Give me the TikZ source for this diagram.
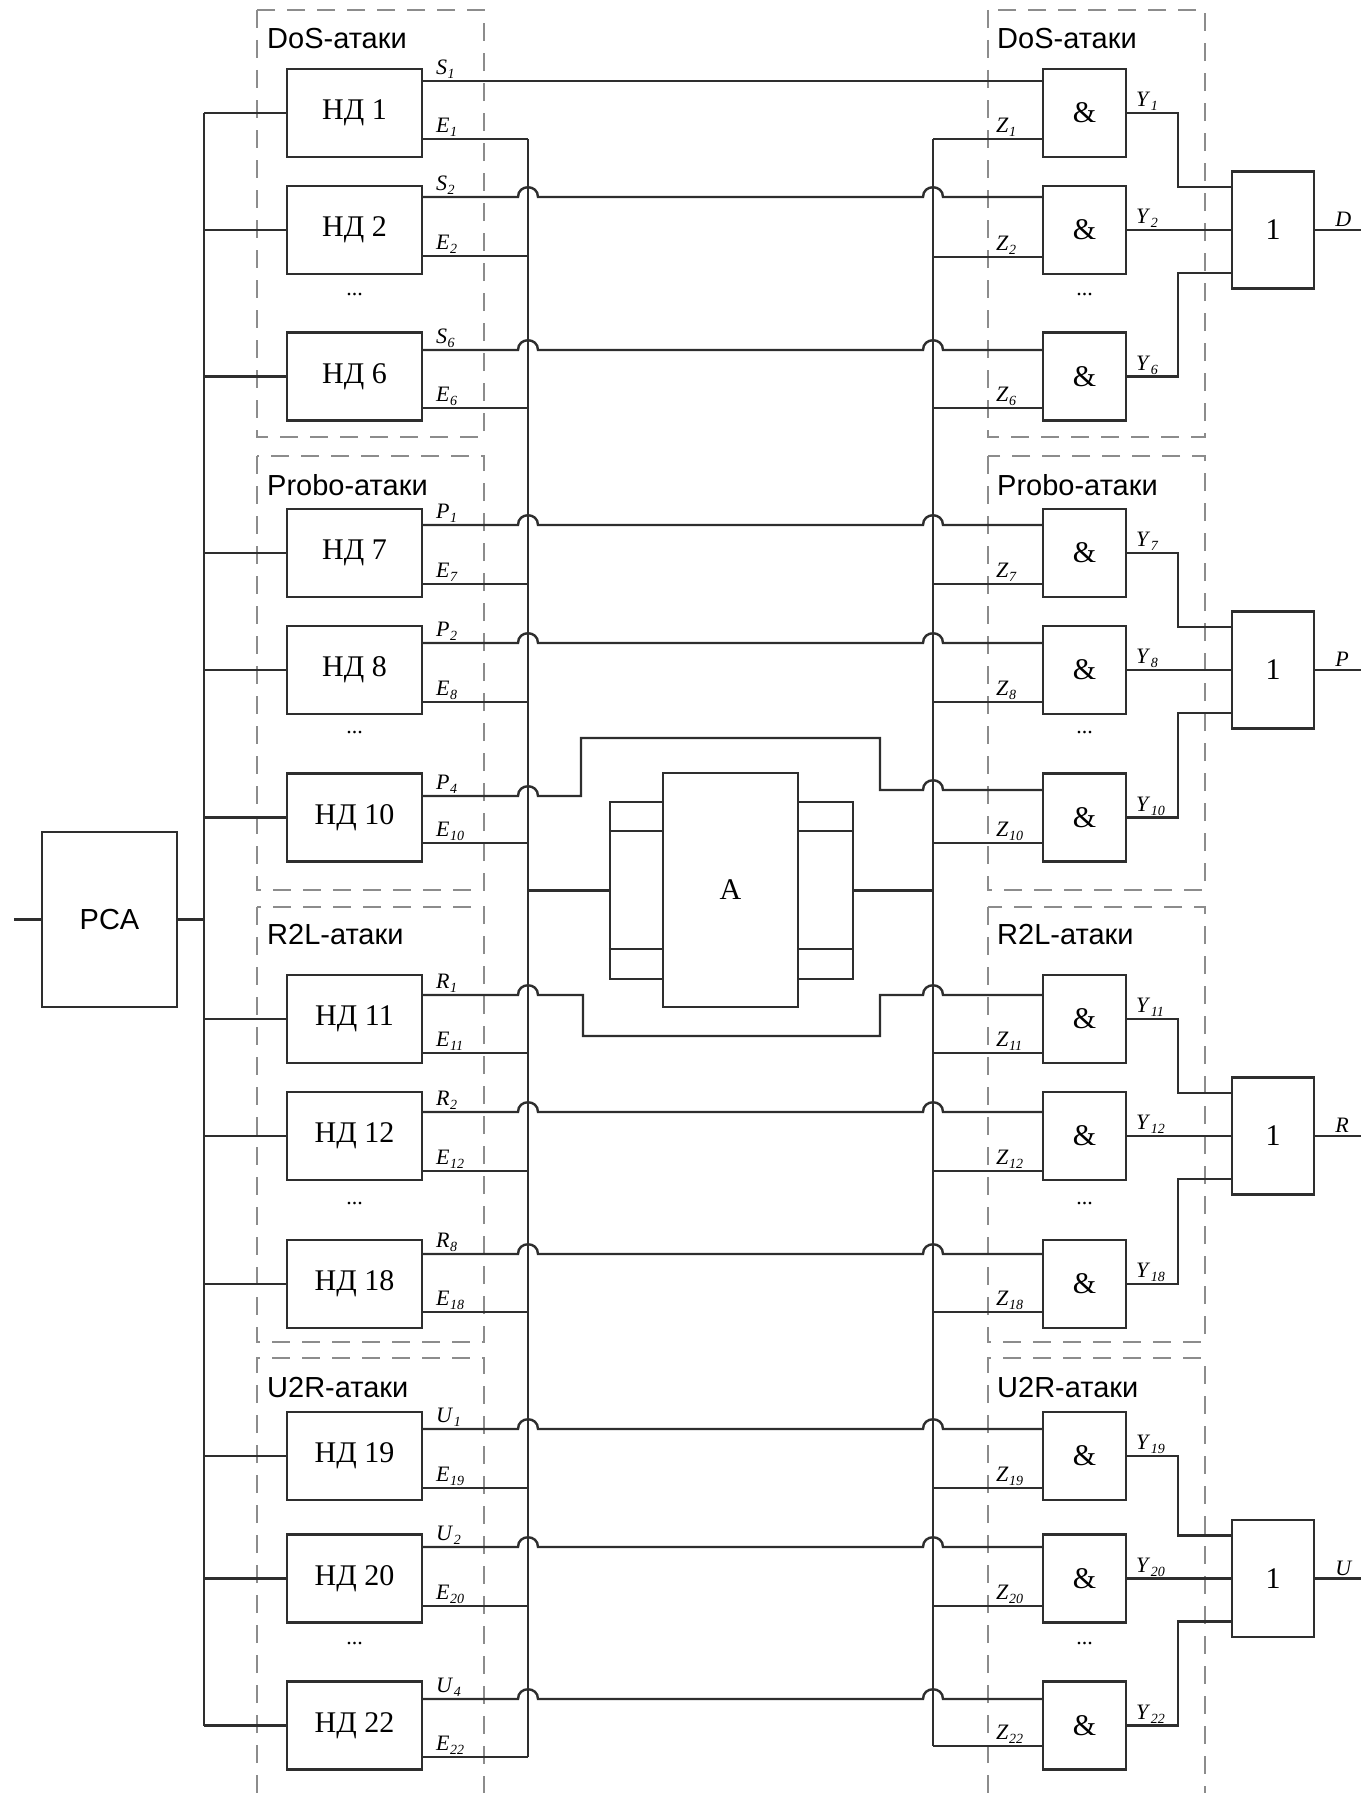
\documentclass[tikz,border=0pt]{standalone}
\usepackage{fontspec}
\setmainfont{Liberation Serif}
\setsansfont{Liberation Sans}
\usetikzlibrary{calc}
\newcommand\sgl[2]{\textit{#1}\kern0.5pt\raisebox{-4pt}{\fontsize{14}{14}\selectfont\textit{#2}}}
\begin{document}
\begin{tikzpicture}[x=1pt,y=-1pt,
  ln/.style={line width=2.4pt, draw=black!82},
  box/.style={draw=black!82, line width=2.4pt, fill=white, inner sep=0pt, font=\fontsize{30}{30}\selectfont},
  ndbox/.style={box, minimum width=135pt, minimum height=88pt},
  andbox/.style={box, minimum width=83pt, minimum height=88pt},
  orbox/.style={box, minimum width=82pt, minimum height=117pt},
  grp/.style={draw=black!45, line width=1.8pt, dash pattern=on 18pt off 12pt},
  grplab/.style={anchor=west, inner sep=0pt, font=\sffamily\fontsize{29}{29}\selectfont},
  sig/.style={anchor=south west, inner sep=1pt, font=\fontsize{22}{22}\selectfont},
  dotsnode/.style={inner sep=0pt, font=\fontsize{22}{22}\selectfont},
]
\useasboundingbox (0,0) rectangle (1361,1793);

% dashed groups
\foreach \xa/\xb in {257/484, 988/1205}{
  \draw[grp] (\xa,10) rectangle (\xb,437);
  \draw[grp] (\xa,456) rectangle (\xb,890);
  \draw[grp] (\xa,907) rectangle (\xb,1342);
  \draw[grp] (\xa,1793) -- (\xa,1358) -- (\xb,1358) -- (\xb,1793);
}
\foreach \gx/\side in {267/l, 997/r}{
  \node[grplab] (gD\side) at (\gx,39) {DoS-атаки};
  \node[grplab] (gP\side) at (\gx,485) {Probo-атаки};
  \node[grplab] (gR\side) at (\gx,935) {R2L-атаки};
  \node[grplab] (gU\side) at (\gx,1387) {U2R-атаки};
}
\foreach \dy/\k in {295/1, 733/2, 1203/3, 1643/4}{
  \node[dotsnode] (dl\k) at (354.5,\dy) {...};
  \node[dotsnode] (dr\k) at (1084.5,\dy) {...};
}

% buses
\coordinate (lbus) at (204,113);
\coordinate (lbusB) at (204,1725.5);
\coordinate (ebus) at (528,139);
\coordinate (ebusB) at (528,1757);
\coordinate (zbus) at (933,139);
\coordinate (zbusB) at (933,1746);
\coordinate (yv) at (1178,0);
\coordinate (outx) at (1361,0);
\coordinate (inp) at (14,919.5);
\draw[ln] (lbus) -- (lbusB);
\draw[ln] (ebus) -- (ebusB);
\draw[ln] (zbus) -- (zbusB);

% PCA
\node[box, minimum width=135pt, minimum height=175pt, font=\sffamily\fontsize{29}{29}\selectfont] (pca) at (109.5,919.5) {PCA};
\draw[ln] (inp) -- (pca.west);
\draw[ln] (pca.east) -- (pca.east -| lbus);

% rows
\def\rows{1/113/81/139/139/S/1, 2/230/197/256/257/S/2, 6/376.5/350/408/408/S/6, 7/553/525/584/584/P/1, 8/670/643/702/702/P/2, 10/817.5/796/843/843/P/4, 11/1019/995/1053/1053/R/1, 12/1136/1112/1171/1171/R/2, 18/1284/1254/1312/1312/R/8, 19/1456/1429/1488/1488/U/1, 20/1578.5/1547/1606/1606/U/2, 22/1725.5/1699/1757/1746/U/4}
\foreach \n/\cy/\sy/\ey/\zy/\sigL/\sigS in \rows{
  \node[ndbox] (nd\n) at (354.5,\cy) {НД \n};
  \node[andbox] (and\n) at (1084.5,\cy) {\&};
  \draw[ln] (nd\n.west) -- (nd\n.west -| lbus);
  \draw[ln] (nd\n.east |- 0,\ey) -- (ebus |- 0,\ey);
  \draw[ln] (and\n.west |- 0,\zy) -- (zbus |- 0,\zy);
  \node[sig] (ls\n) at (435,\sy-1) {\sgl{\sigL}{\sigS}};
  \node[sig] (le\n) at (435,\ey-1) {\sgl{E}{\n}};
  \node[sig] (lz\n) at (995,\zy-1) {\sgl{Z}{\n}};
  \node[sig] (ly\n) at (1135,\cy-1) {\sgl{Y}{\n}};
}
% straight signal lines with jumps
\foreach \n/\sy in {2/197, 6/350, 7/525, 8/643, 12/1112, 18/1254, 19/1429, 20/1547, 22/1699}{
  \draw[ln] (nd\n.east |- 0,\sy) -- (518,\sy) .. controls (518,\sy-13) and (538,\sy-13) .. (538,\sy)
     -- (923,\sy) .. controls (923,\sy-13) and (943,\sy-13) .. (943,\sy) -- (and\n.west |- 0,\sy);
}
\draw[ln] (nd1.east |- 0,81) -- (and1.west |- 0,81);

% A block
\node[box, minimum width=53pt, minimum height=177pt] (AL) at (636.5,890.5) {};
\node[box, minimum width=55pt, minimum height=177pt] (AR) at (825.5,890.5) {};
\node[box, minimum width=135pt, minimum height=234pt] (A) at (730.5,890) {A};
\draw[ln] (AL.west |- 0,831) -- (A.west |- 0,831);
\draw[ln] (AL.west |- 0,949) -- (A.west |- 0,949);
\draw[ln] (A.east |- 0,831) -- (AR.east |- 0,831);
\draw[ln] (A.east |- 0,949) -- (AR.east |- 0,949);
\draw[ln] (AL.west) -- (AL.west -| ebus);
\draw[ln] (AR.east) -- (AR.east -| zbus);

% bypass lines around A
\draw[ln] (nd10.east |- 0,796) -- (518,796) .. controls (518,783) and (538,783) .. (538,796)
   -- (581,796) -- (581,738) -- (880,738) -- (880,790) -- (923,790)
   .. controls (923,777) and (943,777) .. (943,790) -- (and10.west |- 0,790);
\draw[ln] (nd11.east |- 0,995) -- (518,995) .. controls (518,982) and (538,982) .. (538,995)
   -- (583,995) -- (583,1036) -- (880,1036) -- (880,995) -- (923,995)
   .. controls (923,982) and (943,982) .. (943,995) -- (and11.west |- 0,995);

% OR gates
\foreach \a/\b/\c/\oo/\ocy in {1/2/6/D/230, 7/8/10/P/670, 11/12/18/R/1136, 19/20/22/U/1578.5}{
  \node[orbox] (or\oo) at (1273,\ocy) {1};
  \draw[ln] (and\a.east) -- (and\a.east -| yv) |- ($(or\oo.west)+(0,-43)$);
  \draw[ln] (and\b.east) -- (or\oo.west);
  \draw[ln] (and\c.east) -- (and\c.east -| yv) |- ($(or\oo.west)+(0,43)$);
  \draw[ln] (or\oo.east) -- (or\oo.east -| outx);
  \node[sig] (lo\oo) at ($(or\oo.east)+(19,-2)$) {\textit{\oo}};
}
\end{tikzpicture}
\end{document}
